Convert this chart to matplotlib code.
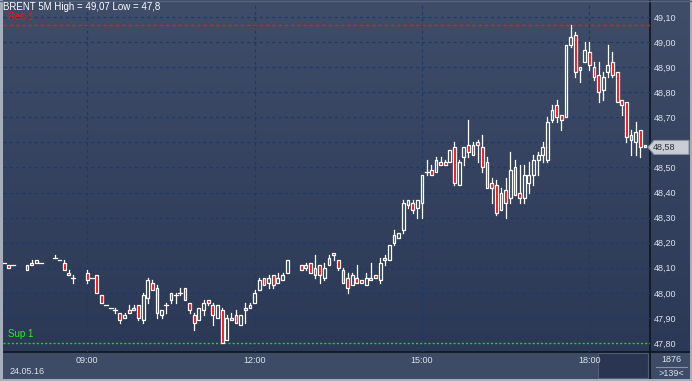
import numpy as np
import matplotlib.pyplot as plt
from matplotlib.patches import Rectangle, Polygon
from matplotlib.colors import LinearSegmentedColormap

W, H = 692, 381
nan = np.nan

# 5-minute bars, slot i = 07:30 + 5*i min (139 slots), nan = no bar
opens = [48.12, 48.11, 48.11, nan, nan, 48.09, 48.12, 48.12, 48.12, nan,
         nan, 48.14, 48.13, 48.12, 48.08, 48.06, nan, nan, 48.08, 48.06,
         48.07, 47.99, 47.95, 47.94, 47.93, 47.92, 47.90, 47.93, 47.93, 47.95,
         47.89, 47.98, 48.04, 48.02, 47.91, 47.95, 47.97, 47.99, 48.00, 48.02,
         47.96, 47.91, 47.89, 47.93, 47.97, 47.95, 47.90, 47.93, 47.81, 47.89,
         47.91, 47.87, 47.93, 47.95, 47.96, 48.01, 48.06, 48.04, 48.07, 48.04,
         48.05, 48.08, nan, nan, 48.11, 48.10, 48.12, 48.07, 48.11, 48.06,
         48.11, 48.16, 48.13, 48.09, 48.06, 48.03, 48.06, 48.05, 48.03, 48.05,
         48.07, 48.05, 48.13, 48.13, 48.20, 48.22, 48.25, 48.35, 48.36, 48.34,
         48.36, 48.48, 48.49, 48.48, 48.52, 48.52, 48.52, 48.58, 48.43, 48.54,
         48.59, 48.55, 48.60, 48.58, 48.52, 48.44, 48.43, 48.33, 48.41, 48.38,
         48.50, 48.40, 48.38, 48.44, 48.47, 48.53, 48.55, 48.53, 48.69, 48.75,
         48.71, 48.70, 48.99, 49.03, 48.89, 48.92, 48.96, 48.90, 48.87, 48.81,
         48.88, 48.92, 48.88, 48.77, 48.76, 48.63, 48.60, 48.65, 48.59]
highs = [48.12, 48.11, 48.11, nan, nan, 48.11, 48.13, 48.13, 48.12, nan,
         nan, 48.15, 48.13, 48.13, 48.09, 48.07, nan, nan, 48.09, 48.06,
         48.07, 47.99, 47.95, 47.94, 47.94, 47.92, 47.92, 47.95, 47.95, 47.95,
         48.00, 48.06, 48.05, 48.03, 47.93, 47.96, 48.00, 48.00, 48.02, 48.02,
         47.96, 47.92, 47.94, 47.97, 47.97, 47.96, 47.95, 47.94, 47.91, 47.92,
         47.93, 47.91, 47.96, 47.96, 48.01, 48.06, 48.06, 48.07, 48.07, 48.08,
         48.08, 48.13, nan, nan, 48.11, 48.12, 48.12, 48.15, 48.11, 48.12,
         48.15, 48.16, 48.13, 48.10, 48.08, 48.08, 48.11, 48.05, 48.08, 48.12,
         48.07, 48.14, 48.15, 48.19, 48.25, 48.24, 48.37, 48.37, 48.37, 48.37,
         48.47, 48.53, 48.51, 48.54, 48.54, 48.53, 48.57, 48.60, 48.53, 48.58,
         48.69, 48.60, 48.61, 48.63, 48.54, 48.46, 48.45, 48.42, 48.46, 48.56,
         48.53, 48.51, 48.51, 48.52, 48.55, 48.56, 48.60, 48.70, 48.75, 48.77,
         48.71, 48.99, 49.07, 49.04, 48.90, 49.00, 49.00, 48.92, 48.92, 48.88,
         48.99, 48.96, 48.88, 48.77, 48.76, 48.65, 48.68, 48.65, 48.59]
lows = [48.12, 48.10, 48.11, nan, nan, 48.09, 48.11, 48.12, 48.12, nan,
        nan, 48.14, 48.13, 48.09, 48.07, 48.04, nan, nan, 48.04, 48.06,
        48.00, 47.96, 47.95, 47.94, 47.92, 47.88, 47.90, 47.92, 47.93, 47.89,
        47.88, 47.96, 48.01, 47.90, 47.90, 47.92, 47.96, 47.96, 47.99, 47.97,
        47.92, 47.85, 47.89, 47.91, 47.95, 47.87, 47.90, 47.80, 47.81, 47.89,
        47.88, 47.87, 47.88, 47.94, 47.96, 48.01, 48.03, 48.02, 48.02, 48.04,
        48.05, 48.08, nan, nan, 48.09, 48.09, 48.08, 48.06, 48.04, 48.05,
        48.11, 48.13, 48.09, 48.04, 48.00, 48.03, 48.04, 48.04, 48.03, 48.05,
        48.06, 48.04, 48.11, 48.13, 48.19, 48.22, 48.24, 48.34, 48.32, 48.30,
        48.30, 48.47, 48.47, 48.48, 48.51, 48.51, 48.52, 48.43, 48.43, 48.51,
        48.54, 48.55, 48.52, 48.48, 48.42, 48.36, 48.31, 48.33, 48.30, 48.36,
        48.39, 48.36, 48.36, 48.40, 48.43, 48.47, 48.52, 48.52, 48.68, 48.68,
        48.65, 48.70, 48.98, 48.86, 48.84, 48.92, 48.89, 48.85, 48.76, 48.77,
        48.86, 48.86, 48.76, 48.71, 48.60, 48.55, 48.55, 48.54, 48.58]
closes = [48.12, 48.10, 48.11, nan, nan, 48.11, 48.11, 48.13, 48.12, nan,
          nan, 48.14, 48.13, 48.09, 48.07, 48.06, nan, nan, 48.05, 48.06,
          48.00, 47.96, 47.95, 47.94, 47.93, 47.89, 47.91, 47.92, 47.94, 47.90,
          47.99, 48.05, 48.01, 47.92, 47.93, 47.95, 48.00, 47.99, 48.00, 47.97,
          47.93, 47.88, 47.94, 47.96, 47.96, 47.91, 47.95, 47.80, 47.90, 47.90,
          47.88, 47.91, 47.94, 47.94, 48.00, 48.05, 48.03, 48.06, 48.03, 48.06,
          48.07, 48.13, nan, nan, 48.09, 48.11, 48.08, 48.10, 48.07, 48.10,
          48.14, 48.15, 48.10, 48.04, 48.02, 48.07, 48.04, 48.04, 48.06, 48.06,
          48.06, 48.12, 48.14, 48.19, 48.23, 48.24, 48.36, 48.37, 48.33, 48.37,
          48.47, 48.48, 48.47, 48.53, 48.51, 48.51, 48.57, 48.44, 48.52, 48.58,
          48.56, 48.59, 48.59, 48.50, 48.42, 48.42, 48.32, 48.40, 48.36, 48.49,
          48.39, 48.38, 48.47, 48.47, 48.53, 48.55, 48.58, 48.68, 48.73, 48.70,
          48.69, 48.99, 49.02, 48.88, 48.90, 48.97, 48.91, 48.86, 48.80, 48.86,
          48.91, 48.87, 48.76, 48.75, 48.62, 48.61, 48.64, 48.58, 48.58]

price_levels = [47.80, 47.90, 48.00, 48.10, 48.20, 48.30, 48.40, 48.50,
                48.60, 48.70, 48.80, 48.90, 49.00, 49.10]
hour_labels = ['09:00', '12:00', '15:00', '18:00']
hour_slots = [18, 54, 90, 126]
res1 = 49.07
sup1 = 47.80
day_high, day_low = 49.07, 47.8

fig = plt.figure(figsize=(W / 100, H / 100), dpi=100)


def px(x0, y0, x1, y1):
    # pixel box (origin top-left) -> figure fraction rect
    return [x0 / W, 1 - y1 / H, (x1 - x0) / W, (y1 - y0) / H]


# ---- background panels
bg = fig.add_axes([0, 0, 1, 1], zorder=0)
bg.set_axis_off()
bg.set_xlim(0, W)
bg.set_ylim(H, 0)
cmap = LinearSegmentedColormap.from_list('bg', ['#3f4d69', '#2b3856'])
grad = np.linspace(0, 1, 256)[:, None]
bg.imshow(grad, cmap=cmap, extent=(0, W, 352, 0), aspect='auto')
bg.add_patch(Rectangle((0, 352), W, 29, fc='#3e4b67', ec='none'))
bg.add_patch(Rectangle((598, 353), 50, 25, fc='#2a3551', ec='#505c75', lw=0.8))
bg.plot([650, 650], [0, 381], color='#0f1420', lw=1.2)
bg.plot([0, 692], [352, 352], color='#0f1420', lw=1.2)
bg.plot([1, 1], [0, 381], color='#a6aebb', lw=2.2)
bg.plot([691, 691], [0, 381], color='#a6aebb', lw=2.2)
bg.plot([0, 692], [380, 380], color='#a6aebb', lw=2.2)
bg.plot([0, 692], [0.5, 0.5], color='#56627a', lw=1)

# ---- main chart
ax = fig.add_axes(px(3, 3, 650, 352), zorder=1)
ax.patch.set_alpha(0)
for s in ax.spines.values():
    s.set_visible(False)
ax.set_xlim(-0.15, 139.07)
ax.set_ylim(47.764, 49.156)

grid_kw = dict(color='#1c3a6b', lw=0.9, ls=(0, (2.5, 2.5)), zorder=1)
for lv in price_levels[1:]:
    ax.axhline(lv, **grid_kw)
for s in hour_slots:
    ax.axvline(s, **grid_kw)
ax.axhline(res1, color='#ee1818', lw=1.0, ls=(0, (2.5, 2)), zorder=1)
ax.axhline(sup1, color='#10e010', lw=1.0, ls=(0, (1.5, 1.5)), zorder=1)

o = np.array(opens)
hi = np.array(highs)
lo = np.array(lows)
c = np.array(closes)
bw = 0.6
lw_px = 0.9
for i in range(len(o)):
    if np.isnan(o[i]):
        continue
    top = max(o[i], c[i])
    bot = min(o[i], c[i])
    if hi[i] > top:
        ax.plot([i, i], [top, hi[i]], color='white', lw=lw_px, zorder=3)
    if lo[i] < bot:
        ax.plot([i, i], [lo[i], bot], color='white', lw=lw_px, zorder=3)
    if top == bot:
        ax.plot([i - 0.42, i + 0.42], [top, top], color='white', lw=lw_px, zorder=3)
    else:
        fc = '#ff0000' if c[i] < o[i] else 'none'
        ax.add_patch(Rectangle((i - bw / 2, bot), bw, top - bot, fc=fc,
                               ec='white', lw=lw_px, zorder=4))

# axis labels
ax.yaxis.tick_right()
ax.set_yticks(price_levels, [f'{v:.2f}'.replace('.', ',') for v in price_levels])
ax.tick_params(axis='y', length=0, pad=2.5, labelsize=6.5, labelcolor='#dde1e8')
ax.set_xticks(hour_slots, hour_labels)
ax.tick_params(axis='x', length=0, pad=3, labelsize=6.5, labelcolor='#dde1e8')
for t in ax.get_yticklabels() + ax.get_xticklabels():
    t.set_fontfamily('Liberation Sans')

# overlay for tag and texts
ov = fig.add_axes([0, 0, 1, 1], zorder=2)
ov.set_axis_off()
ov.set_xlim(0, W)
ov.set_ylim(H, 0)

last = c[~np.isnan(c)][-1]
ty = H - ax.transData.transform((0, last))[1]
ov.add_patch(Polygon([(648, ty), (654, ty - 7), (689, ty - 7), (689, ty + 7), (654, ty + 7)],
                     closed=True, fc='#c9cdd5', ec='#8a919e', lw=0.8))
ov.text(653, ty, f'{last:.2f}'.replace('.', ','), fontsize=6.5, color='#2a2f3a',
        va='center', ha='left', family='Liberation Sans')

txt = dict(family='Liberation Sans', va='center', ha='left')
ov.text(3, 7.5, f'BRENT 5M High = {day_high:.2f}'.replace('.', ',') +
        f' Low = {day_low}'.replace('.', ','), fontsize=7, color='white', **txt)
ov.text(8, 17.5, 'Res 1', fontsize=7, color='#ff1010', **txt)
ov.text(8, 334, 'Sup 1', fontsize=7, color='#10ff10', **txt)
ov.text(10, 371, '24.05.16', fontsize=6.5, color='#dde1e8', **txt)
ov.text(671, 360, '1876', fontsize=6.5, color='#dde1e8', family='Liberation Sans',
        va='center', ha='center')
ov.plot([656, 687], [366.5, 366.5], color='#8a93a5', lw=0.8)
ov.text(671, 373, '>139<', fontsize=6.5, color='#dde1e8', family='Liberation Sans',
        va='center', ha='center')

fig.savefig('out.png', dpi=100)
